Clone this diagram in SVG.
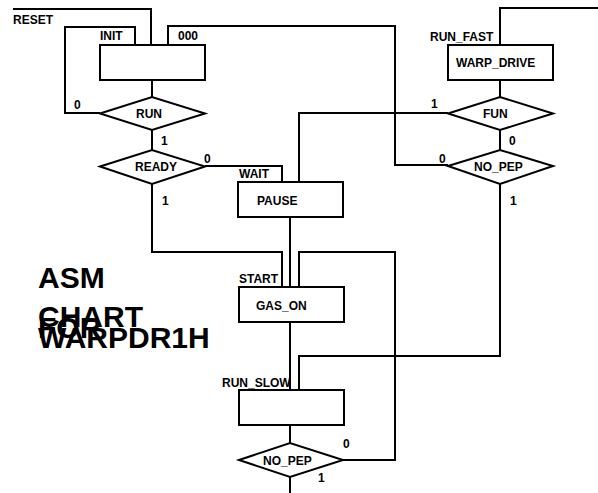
<svg xmlns="http://www.w3.org/2000/svg" width="598" height="493" viewBox="0 0 598 493">
<style>
  .ln { fill: none; stroke: #000; stroke-width: 2; }
  .box { fill: #fff; stroke: #000; stroke-width: 2; }
  .t { font-family: "Liberation Sans", Arial, sans-serif; font-size: 12px; font-weight: bold; fill: #000; }
  .big { font-family: "Liberation Sans", Arial, sans-serif; font-size: 30px; font-weight: bold; fill: #000; }
</style>
<rect width="598" height="493" fill="#fff"/>
<g id="connectors">
  <path class="ln" d="M13,9 H151 V45"/>
  <path class="ln" d="M100,113 H65 V27 H135 V45"/>
  <path class="ln" d="M168,45 V26 H395 V165 H448"/>
  <path class="ln" d="M152,80 V97"/>
  <path class="ln" d="M152,130 V150"/>
  <path class="ln" d="M205,166 H282 V182"/>
  <path class="ln" d="M152,184 V252 H282 V287"/>
  <path class="ln" d="M598,8 H500 V45"/>
  <path class="ln" d="M500,80 V97"/>
  <path class="ln" d="M448,113 H299 V182"/>
  <path class="ln" d="M500,130 V150"/>
  <path class="ln" d="M500,184 V356 H299 V390"/>
  <path class="ln" d="M290,217 V287"/>
  <path class="ln" d="M290,322 V390"/>
  <path class="ln" d="M290,425 V443"/>
  <path class="ln" d="M343,460 H395 V252 H299 V287"/>
  <path class="ln" d="M290,477 V493"/>
</g>
<g id="title">
  <text class="big" x="38" y="288">ASM</text>
  <text class="big" x="38" y="327">CHART</text>
  <text class="big" x="38" y="338">FOR</text>
  <text class="big" x="38" y="348">WARPDR1H</text>
</g>
<g id="reset"><text class="t" x="13" y="24">RESET</text></g>
<g id="init">
  <rect class="box" x="100" y="45" width="105" height="35"/>
  <text class="t" x="100" y="40">INIT</text>
  <text class="t" x="178" y="40">000</text>
</g>
<g id="run">
  <polygon class="box" points="100,113.5 152,97 205,113.5 152,130"/>
  <text class="t" x="136" y="118">RUN</text>
  <text class="t" x="74" y="109">0</text>
  <text class="t" x="161" y="145">1</text>
</g>
<g id="ready">
  <polygon class="box" points="100,166.5 152,150 205,166.5 152,184"/>
  <text class="t" x="135" y="171">READY</text>
  <text class="t" x="204" y="163">0</text>
  <text class="t" x="162" y="205">1</text>
</g>
<g id="warp_drive">
  <rect class="box" x="448" y="45" width="105" height="35"/>
  <text class="t" x="430" y="41">RUN_FAST</text>
  <text class="t" x="456" y="67">WARP_DRIVE</text>
</g>
<g id="fun">
  <polygon class="box" points="448,113.5 500,97 553,113.5 500,130"/>
  <text class="t" x="483" y="118">FUN</text>
  <text class="t" x="431" y="108">1</text>
  <text class="t" x="509" y="145">0</text>
</g>
<g id="no_pep1">
  <polygon class="box" points="448,166 500,150 553,166 500,184"/>
  <text class="t" x="474" y="171">NO_PEP</text>
  <text class="t" x="439" y="163">0</text>
  <text class="t" x="510" y="205">1</text>
</g>
<g id="pause">
  <rect class="box" x="238" y="182" width="105" height="35"/>
  <text class="t" x="239" y="178">WAIT</text>
  <text class="t" x="257" y="205">PAUSE</text>
</g>
<g id="gas_on">
  <rect class="box" x="239" y="287" width="105" height="35"/>
  <text class="t" x="239" y="283">START</text>
  <text class="t" x="256" y="310">GAS_ON</text>
</g>
<g id="run_slow">
  <rect class="box" x="239" y="390" width="105" height="35"/>
  <text class="t" x="222" y="387">RUN_SLOW</text>
</g>
<g id="no_pep2">
  <polygon class="box" points="239,460 290,443 343,460 290,477"/>
  <text class="t" x="263" y="465">NO_PEP</text>
  <text class="t" x="343" y="448">0</text>
  <text class="t" x="318" y="482">1</text>
</g>
</svg>
